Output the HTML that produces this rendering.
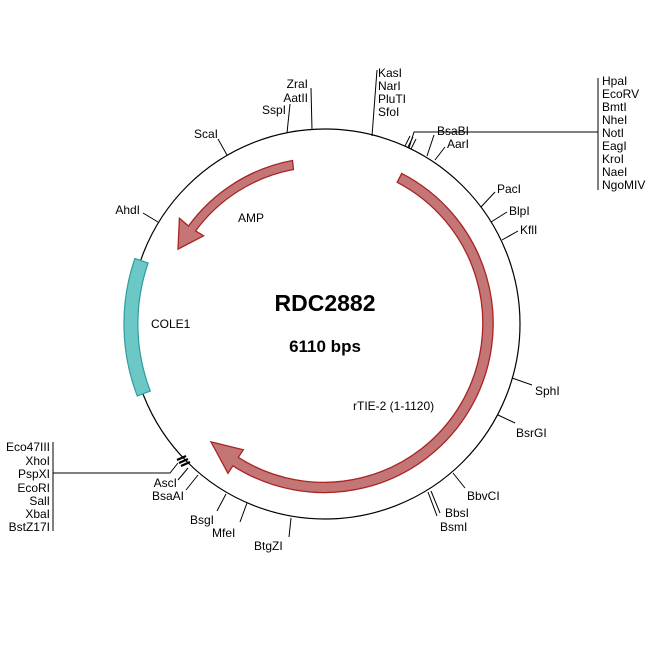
<!DOCTYPE html>
<html><head><meta charset="utf-8"><style>
html,body{margin:0;padding:0;background:#fff;}
svg{display:block;font-family:"Liberation Sans",Arial,sans-serif;}
</style></head><body>
<svg width="650" height="650" viewBox="0 0 650 650" xmlns="http://www.w3.org/2000/svg">
<rect width="650" height="650" fill="#fff"/>
<circle cx="325" cy="324" r="195" fill="none" stroke="#000" stroke-width="1.2"/>
<path d="M401.7 173.4 A169 169 0 1 1 232.9 465.8 L228.0 473.3 L211.0 441.9 L243.3 449.8 L238.3 457.4 A159 159 0 1 0 397.2 182.3 Z" fill="#c47676" stroke="#a82424" stroke-width="1.3"/>
<path d="M292.5 160.5 A166 166 0 0 0 188.5 226.0 L179.4 218.2 L178.0 249.1 L203.6 235.8 L195.6 230.9 A157 157 0 0 1 293.5 169.5 Z" fill="#c47676" stroke="#a82424" stroke-width="1.3"/>
<path d="M134.9 258.5 A201 201 0 0 0 137.3 396.0 L150.3 391.0 A187 187 0 0 1 148.1 263.0 Z" fill="#6cc8c6" stroke="#2e9e9c" stroke-width="1.2"/>
<g stroke="#000" stroke-width="1" fill="none">
<line x1="312" y1="130" x2="311" y2="88"/>
<line x1="287" y1="133" x2="290" y2="104"/>
<line x1="372" y1="136" x2="377" y2="70"/>
<line x1="405" y1="146" x2="410" y2="136"/>
<line x1="408" y1="147" x2="413" y2="137"/>
<line x1="411" y1="149" x2="416" y2="139"/>
<polyline points="409,148 414,132 598,132"/>
<line x1="598" y1="78" x2="598" y2="190"/>
<line x1="427" y1="156" x2="434" y2="135"/>
<line x1="435" y1="160" x2="445" y2="147"/>
<line x1="481" y1="207" x2="495" y2="192"/>
<line x1="491" y1="222" x2="507" y2="212"/>
<line x1="502" y1="240" x2="518" y2="231"/>
<line x1="227" y1="155" x2="218" y2="139"/>
<line x1="158" y1="222" x2="143" y2="213"/>
<line x1="512" y1="378" x2="532" y2="385"/>
<line x1="498" y1="415" x2="515" y2="423"/>
<line x1="453" y1="473" x2="465" y2="488"/>
<line x1="431" y1="491" x2="440" y2="513"/>
<line x1="428" y1="492" x2="437" y2="516"/>
<line x1="291" y1="518" x2="289" y2="537"/>
<line x1="247" y1="503" x2="240" y2="522"/>
<line x1="226" y1="494" x2="217" y2="511"/>
<line x1="198" y1="475" x2="186" y2="490"/>
<line x1="188" y1="468" x2="178" y2="480"/>
<polyline points="53,473 170,473 178,463"/>
<line x1="53" y1="442" x2="53" y2="531"/>
</g>
<g stroke="#000" stroke-width="2.2">
<line x1="177" y1="460" x2="186" y2="456"/>
<line x1="179" y1="463" x2="188" y2="459"/>
<line x1="181" y1="466" x2="190" y2="462"/>
</g>
<g font-size="12" fill="#000">
<text x="308" y="88" text-anchor="end">ZraI</text>
<text x="308" y="102" text-anchor="end">AatII</text>
<text x="286" y="114" text-anchor="end">SspI</text>
<text x="378" y="77">KasI</text>
<text x="378" y="90">NarI</text>
<text x="378" y="103">PluTI</text>
<text x="378" y="116">SfoI</text>
<text x="437" y="135">BsaBI</text>
<text x="447" y="148">AarI</text>
<text x="602" y="85">HpaI</text>
<text x="602" y="98">EcoRV</text>
<text x="602" y="111">BmtI</text>
<text x="602" y="124">NheI</text>
<text x="602" y="137">NotI</text>
<text x="602" y="150">EagI</text>
<text x="602" y="163">KroI</text>
<text x="602" y="176">NaeI</text>
<text x="602" y="189">NgoMIV</text>
<text x="497" y="193">PacI</text>
<text x="509" y="215">BlpI</text>
<text x="520" y="234">KflI</text>
<text x="535" y="395">SphI</text>
<text x="516" y="437">BsrGI</text>
<text x="467" y="500">BbvCI</text>
<text x="445" y="517">BbsI</text>
<text x="440" y="531">BsmI</text>
<text x="254" y="550">BtgZI</text>
<text x="212" y="537">MfeI</text>
<text x="190" y="524">BsgI</text>
<text x="184" y="500" text-anchor="end">BsaAI</text>
<text x="177" y="487" text-anchor="end">AscI</text>
<text x="218" y="138" text-anchor="end">ScaI</text>
<text x="140" y="214" text-anchor="end">AhdI</text>
<text x="50" y="451" text-anchor="end">Eco47III</text>
<text x="50" y="465" text-anchor="end">XhoI</text>
<text x="50" y="478" text-anchor="end">PspXI</text>
<text x="50" y="492" text-anchor="end">EcoRI</text>
<text x="50" y="505" text-anchor="end">SalI</text>
<text x="50" y="518" text-anchor="end">XbaI</text>
<text x="50" y="531" text-anchor="end">BstZ17I</text>
<text x="238" y="222">AMP</text>
<text x="151" y="328">COLE1</text>
<text x="353" y="410">rTIE-2 (1-1120)</text>
</g>
<text x="325" y="311" text-anchor="middle" font-size="23" font-weight="bold">RDC2882</text>
<text x="325" y="352" text-anchor="middle" font-size="17" font-weight="bold">6110 bps</text>
</svg>
</body></html>
